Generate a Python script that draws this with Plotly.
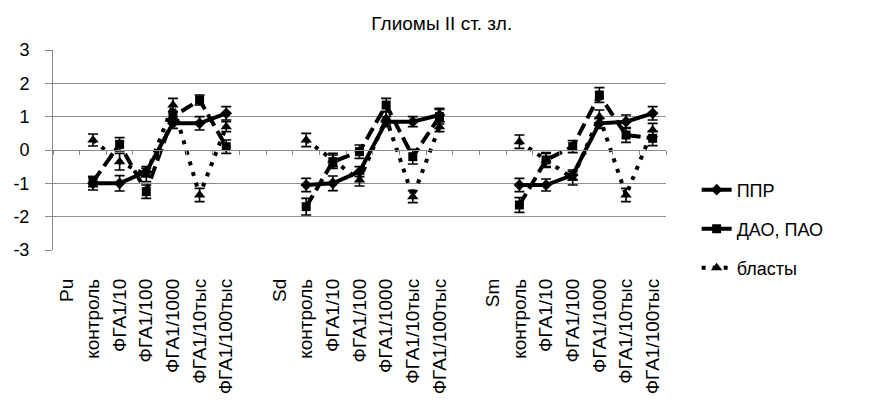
import plotly.graph_objects as go

categories = ["Pu", "контроль", "ФГА1/10", "ФГА1/100", "ФГА1/1000", "ФГА1/10тыс", "ФГА1/100тыс", "",
              "Sd", "контроль", "ФГА1/10", "ФГА1/100", "ФГА1/1000", "ФГА1/10тыс", "ФГА1/100тыс", "",
              "Sm", "контроль", "ФГА1/10", "ФГА1/100", "ФГА1/1000", "ФГА1/10тыс", "ФГА1/100тыс"]

series_names = ["ППР", "ДАО, ПАО", "бласты"]

ppr = [None, -1.0, -1.0, -0.65, 0.8, 0.8, 1.1, None,
       None, -1.05, -1.0, -0.65, 0.85, 0.85, 1.05, None,
       None, -1.05, -1.05, -0.75, 0.8, 0.85, 1.1]
ppr_err = [0, 0.2, 0.23, 0.15, 0.15, 0.2, 0.2, 0,
           0, 0.2, 0.22, 0.15, 0.15, 0.15, 0.2, 0,
           0, 0.2, 0.18, 0.15, 0.15, 0.2, 0.2]

dao = [None, -0.95, 0.17, -1.25, 1.0, 1.5, 0.1, None,
       None, -1.7, -0.35, -0.05, 1.35, -0.2, 1.0, None,
       None, -1.65, -0.3, 0.1, 1.65, 0.45, 0.35]
dao_err = [0, 0.15, 0.2, 0.2, 0.15, 0.15, 0.2, 0,
           0, 0.25, 0.2, 0.2, 0.2, 0.22, 0.22, 0,
           0, 0.22, 0.22, 0.18, 0.22, 0.22, 0.22]

blasts = [None, 0.3, -0.35, -0.75, 1.35, -1.35, 0.7, None,
          None, 0.3, -0.3, -0.9, 0.95, -1.4, 0.7, None,
          None, 0.25, -0.3, -0.85, 1.0, -1.35, 0.6]
blasts_err = [0, 0.18, 0.25, 0.2, 0.2, 0.2, 0.15, 0,
              0, 0.2, 0.2, 0.18, 0.2, 0.18, 0.15, 0,
              0, 0.2, 0.2, 0.2, 0.2, 0.2, 0.2]

y_ticks = [-3, -2, -1, 0, 1, 2, 3]
y_tick_text = ["-3", "-2", "-1", "0", "1", "2", "3"]

title_text = "Глиомы II ст. зл."

FONT = "Liberation Sans, Arial, sans-serif"
GRID = "#8c8c8c"

xs = list(range(len(categories)))

styles = [
    dict(dash="solid", symbol="diamond", size=9),
    dict(dash="13px,6px", symbol="square", size=9),
    dict(dash="4px,7px", symbol="triangle-up", size=10),
]
values = [ppr, dao, blasts]
errors = [ppr_err, dao_err, blasts_err]
legends = ["legend", "legend2", "legend3"]

fig = go.Figure()
for name, vals, errs, st, lg in zip(series_names, values, errors, styles, legends):
    fig.add_trace(go.Scatter(
        x=xs, y=vals, name=name, mode="lines+markers", legend=lg,
        line=dict(color="black", width=4, dash=st["dash"]),
        marker=dict(color="black", symbol=st["symbol"], size=st["size"]),
        error_y=dict(type="data", array=errs, visible=True, color="black",
                     thickness=1.6, width=5),
        connectgaps=False,
    ))

# axis line at y=0 with category boundary ticks
fig.add_trace(go.Scatter(x=[-0.5, len(categories) - 0.5], y=[0, 0], xaxis="x2",
                         mode="lines", line=dict(width=0), showlegend=False,
                         hoverinfo="skip"))

leg_common = dict(xanchor="left", yanchor="middle", bgcolor="rgba(0,0,0,0)",
                  font=dict(family=FONT, size=18, color="black"), x=1.05)

# page body has an 8px margin: figure is 871x401 so it fits the 879x409 window
fig.update_layout(
    width=871, height=401,
    margin=dict(l=45, r=213, t=42, b=159),
    paper_bgcolor="white", plot_bgcolor="white",
    font=dict(family=FONT, size=16, color="black"),
    title=dict(text=title_text, x=0.498, xanchor="center", y=0.962, yanchor="middle",
               font=dict(family=FONT, size=19, color="black")),
    legend=dict(y=0.30, **leg_common),
    legend2=dict(y=0.105, **leg_common),
    legend3=dict(y=-0.09, **leg_common),
    xaxis=dict(
        range=[-0.5, len(categories) - 0.5],
        tickmode="array", tickvals=xs, ticktext=categories,
        tickangle=-90, ticks="", showgrid=False, zeroline=False, showline=False,
        automargin=False, ticklabelstandoff=24,
        tickfont=dict(family=FONT, size=19, color="black"),
    ),
    xaxis2=dict(
        range=[-0.5, len(categories) - 0.5], overlaying="x", anchor="free", position=0.5,
        side="bottom", showticklabels=False, tickmode="linear", tick0=-0.5, dtick=1,
        ticks="outside", ticklen=4, tickcolor=GRID, showline=True, linecolor=GRID,
        linewidth=1, showgrid=False, zeroline=False,
    ),
    yaxis=dict(
        range=[-3, 3], tickmode="array", tickvals=y_ticks, ticktext=y_tick_text,
        showgrid=True, gridcolor=GRID, gridwidth=1, zeroline=False,
        showline=True, linecolor=GRID, linewidth=1,
        ticks="outside", ticklen=7, tickcolor=GRID, ticklabelstandoff=12,
        automargin=False, tickfont=dict(family=FONT, size=18, color="black"),
    ),
)

fig.write_html("out.html")
